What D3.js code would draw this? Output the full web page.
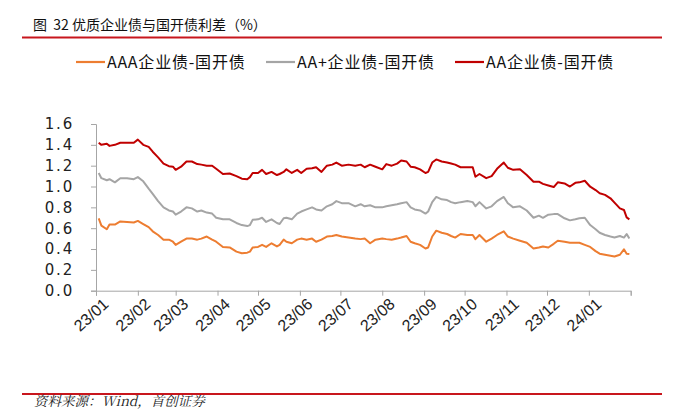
<!DOCTYPE html>
<html><head><meta charset="utf-8">
<script src="https://cdn.jsdelivr.net/npm/d3@7"></script>
<style>
html,body{margin:0;padding:0;background:#fff;}
svg{display:block;}
</style></head>
<body>
<svg id="c" width="676" height="409"></svg>
<script>
const dates = [
"2023-01-03","2023-01-05","2023-01-09","2023-01-11","2023-01-15","2023-01-19","2023-01-24","2023-01-29","2023-02-01","2023-02-05","2023-02-09","2023-02-12","2023-02-16","2023-02-20","2023-02-24","2023-02-27","2023-03-01","2023-03-05","2023-03-09","2023-03-13","2023-03-17","2023-03-20","2023-03-24","2023-03-28","2023-03-31","2023-04-05","2023-04-10","2023-04-15","2023-04-19","2023-04-23","2023-04-25","2023-04-27","2023-05-01","2023-05-04","2023-05-07","2023-05-11","2023-05-15","2023-05-17",
"2023-05-20","2023-05-22","2023-05-26","2023-05-30","2023-06-02","2023-06-06","2023-06-10","2023-06-13","2023-06-17","2023-06-21","2023-06-25","2023-06-28","2023-07-02","2023-07-07","2023-07-12","2023-07-16","2023-07-19","2023-07-23","2023-07-27","2023-08-01","2023-08-04","2023-08-08","2023-08-12","2023-08-15","2023-08-19","2023-08-22","2023-08-25","2023-08-29","2023-09-02","2023-09-04","2023-09-07","2023-09-10","2023-09-14","2023-09-18","2023-09-21",
"2023-09-24","2023-09-28","2023-10-03","2023-10-07","2023-10-09","2023-10-12","2023-10-17","2023-10-21","2023-10-25","2023-10-30","2023-11-02","2023-11-06","2023-11-11","2023-11-16","2023-11-21","2023-11-25","2023-11-28","2023-12-02","2023-12-06","2023-12-09","2023-12-14","2023-12-18","2023-12-22","2023-12-25","2023-12-29","2024-01-02","2024-01-06","2024-01-09","2024-01-13","2024-01-17","2024-01-20","2024-01-24","2024-01-27","2024-01-29","2024-01-31"];

const aaa = [
0.695,0.625,0.59,0.635,0.635,0.665,0.66,0.655,0.67,0.64,0.61,0.57,0.535,0.49,0.49,0.47,0.44,0.47,0.50,0.50,0.49,0.50,0.52,0.49,0.47,0.42,0.415,0.375,0.36,0.365,0.375,0.415,0.42,0.44,0.42,0.455,0.425,0.44,
0.49,0.47,0.455,0.49,0.50,0.49,0.50,0.47,0.49,0.52,0.525,0.535,0.52,0.51,0.50,0.495,0.50,0.455,0.49,0.50,0.495,0.49,0.50,0.51,0.525,0.47,0.455,0.44,0.405,0.415,0.52,0.576,0.556,0.544,0.525,
0.51,0.544,0.535,0.535,0.495,0.535,0.47,0.50,0.535,0.57,0.52,0.50,0.48,0.46,0.405,0.415,0.425,0.415,0.45,0.48,0.47,0.46,0.46,0.46,0.44,0.42,0.38,0.355,0.345,0.335,0.328,0.345,0.397,0.355,0.352];

const aaPlus = [
1.13,1.08,1.06,1.07,1.04,1.08,1.08,1.07,1.09,1.05,0.98,0.93,0.86,0.80,0.77,0.76,0.73,0.76,0.80,0.79,0.76,0.77,0.75,0.74,0.70,0.685,0.685,0.65,0.63,0.62,0.63,0.68,0.685,0.70,0.66,0.685,0.65,0.64,
0.695,0.70,0.685,0.74,0.76,0.78,0.80,0.78,0.77,0.81,0.83,0.86,0.84,0.84,0.81,0.83,0.81,0.82,0.80,0.80,0.81,0.82,0.83,0.84,0.85,0.80,0.78,0.77,0.74,0.76,0.85,0.90,0.877,0.87,0.85,
0.84,0.85,0.86,0.85,0.81,0.85,0.79,0.81,0.86,0.90,0.84,0.80,0.81,0.77,0.70,0.72,0.70,0.73,0.735,0.735,0.695,0.675,0.685,0.695,0.70,0.63,0.59,0.556,0.535,0.52,0.51,0.525,0.51,0.544,0.50];

const aa = [
1.42,1.40,1.41,1.39,1.40,1.42,1.42,1.42,1.45,1.40,1.38,1.334,1.28,1.22,1.195,1.19,1.16,1.19,1.24,1.24,1.215,1.21,1.20,1.20,1.17,1.12,1.125,1.10,1.075,1.07,1.09,1.13,1.13,1.16,1.12,1.14,1.11,1.12,
1.14,1.165,1.13,1.16,1.13,1.17,1.175,1.185,1.14,1.20,1.21,1.23,1.20,1.21,1.20,1.21,1.185,1.21,1.19,1.165,1.215,1.20,1.22,1.25,1.24,1.19,1.185,1.165,1.13,1.14,1.23,1.26,1.24,1.23,1.22,
1.21,1.185,1.185,1.185,1.094,1.12,1.08,1.10,1.17,1.23,1.18,1.16,1.165,1.11,1.046,1.046,1.025,1.01,0.995,1.04,1.03,1.0,1.035,1.04,1.055,0.998,0.966,0.935,0.92,0.887,0.845,0.79,0.775,0.704,0.685];

const seriesNames = ["AAA企业债-国开债","AA+企业债-国开债","AA企业债-国开债"];
const seriesColors = ["#ED7D31","#A5A5A5","#C00000"];
const yTicks = [0,0.2,0.4,0.6,0.8,1.0,1.2,1.4,1.6];
const xTickLabels = ["23/01","23/02","23/03","23/04","23/05","23/06","23/07","23/08","23/09","23/10","23/11","23/12","24/01"];
const title = "图  32 优质企业债与国开债利差（%）";
const source = "资料来源：Wind，首创证券";

const svg = d3.select("#c");
const parse = d3.timeParse("%Y-%m-%d");
const dd = dates.map(parse);
const x = d3.scaleTime().domain([new Date(2023,0,1), new Date(2024,1,1)]).range([96, 630.7]);
const y = d3.scaleLinear().domain([0,1.6]).range([290.7,124]);
const axisColor = "#A6A6A6";

// title
svg.append("text").attr("x",33).attr("y",30).attr("font-family","'Noto Sans CJK SC'").attr("font-size",14).attr("fill","#111")
  .style("white-space","pre").attr("xml:space","preserve").text(title);
svg.append("line").attr("x1",22).attr("x2",662).attr("y1",37.5).attr("y2",37.5).attr("stroke","#C8161D").attr("stroke-width",2);

// legend
const legX = [76, 266, 455];
seriesNames.forEach((n,i)=>{
  const g = svg.append("g").attr("transform",`translate(${legX[i]},62)`);
  g.append("line").attr("x1",0).attr("x2",29).attr("y1",0).attr("y2",0).attr("stroke",seriesColors[i]).attr("stroke-width",2.2);
  g.append("text").attr("x",31).attr("y",0).attr("dy","0.36em").attr("font-family","'Noto Sans CJK SC'").attr("font-size",16).attr("letter-spacing","0.8px").attr("fill","#111").text(n);
});

// y axis
const yAxis = d3.axisLeft(y).tickValues(yTicks).tickFormat(d3.format(".1f")).tickSize(5).tickPadding(17);
const gy = svg.append("g").attr("transform","translate(96,0)").call(yAxis);
gy.select(".domain").attr("stroke",axisColor);
gy.selectAll(".tick line").attr("stroke",axisColor);
gy.selectAll(".tick text").attr("font-family","'DejaVu Sans'").attr("font-size",15).attr("letter-spacing","1.8px").attr("fill","#222");

// x axis
const months = d3.timeMonth.range(new Date(2023,0,1), new Date(2024,1,2));
const xAxis = d3.axisBottom(x).tickValues(months).tickSize(5).tickFormat("");
const gx = svg.append("g").attr("transform","translate(0,290.7)").call(xAxis);
gx.select(".domain").attr("stroke",axisColor);
gx.selectAll(".tick line").attr("stroke",axisColor);
svg.append("g").selectAll("text").data(xTickLabels).join("text")
  .attr("transform",(d,i)=>`translate(${x(months[i])+6},297) rotate(-42)`)
  .attr("text-anchor","end").attr("dy","0.72em")
  .attr("font-family","'Liberation Sans'").attr("font-size",16).attr("fill","#222")
  .text(d=>d);

// lines
const line = d3.line().x((d,i)=>x(dd[i])).y(d=>y(d));
[aaa, aaPlus, aa].forEach((s,i)=>{
  svg.append("path").datum(s).attr("d",line).attr("fill","none").attr("stroke",seriesColors[i]).attr("stroke-width",2).attr("stroke-linejoin","round");
});

// footer
svg.append("line").attr("x1",22).attr("x2",662).attr("y1",394).attr("y2",394).attr("stroke","#C8161D").attr("stroke-width",2);
svg.append("text").attr("x",34).attr("y",405.5).attr("font-family","'Noto Serif CJK SC','Noto Sans CJK SC'").attr("font-style","italic").attr("font-size",13.5).attr("fill","#222").text(source);
</script>
</body></html>
